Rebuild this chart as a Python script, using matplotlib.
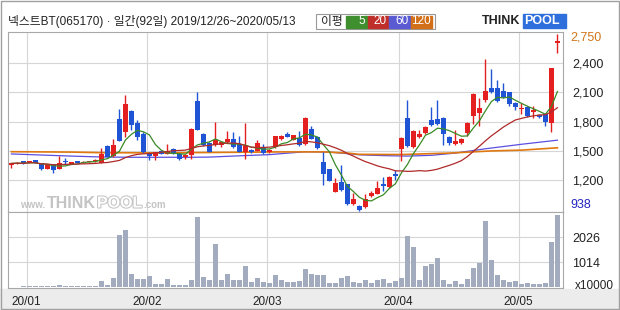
import matplotlib.pyplot as plt
import matplotlib.patheffects as pe
from matplotlib.patches import Rectangle
import pandas as pd

plt.rcParams['font.family'] = ['Liberation Sans', 'Noto Sans CJK KR']

# daily candles 2019/12/26 ~ 2020/05/13 (92 trading days)
opens = [1360, 1368, 1392, 1375, 1404, 1373, 1319, 1363, 1319, 1396,
         1366, 1397, 1378, 1386, 1394, 1380, 1551, 1448, 1823, 1690,
         1904, 1788, 1677, 1479, 1445, 1496, 1472, 1520, 1472, 1435,
         1455, 2015, 1672, 1585, 1558, 1560, 1592, 1622, 1566, 1489,
         1512, 1500, 1532, 1490, 1537, 1617, 1677, 1614, 1635, 1575,
         1725, 1641, 1388, 1310, 1082, 1178, 1162, 958, 940, 927,
         1040, 1064, 1162, 1128, 1266, 1520, 1837, 1543, 1639, 1680,
         1814, 1827, 1842, 1642, 1571, 1580, 1680, 1860, 1890, 2025,
         2142, 2142, 2117, 2100, 1992, 1930, 1946, 1900, 1866, 1880,
         1790, 2605]
highs = [1378, 1382, 1396, 1400, 1408, 1380, 1360, 1366, 1452, 1428,
         1386, 1400, 1394, 1400, 1420, 1534, 1560, 1619, 1924, 2074,
         1919, 1817, 1690, 1484, 1490, 1510, 1571, 1530, 1476, 1466,
         1735, 2108, 1680, 1590, 1795, 1596, 1700, 1695, 1650, 1787,
         1520, 1609, 1571, 1515, 1655, 1665, 1694, 1668, 1701, 1845,
         1759, 1650, 1492, 1315, 1228, 1358, 1165, 1070, 950, 1063,
         1088, 1196, 1238, 1240, 1309, 1640, 2025, 1712, 1718, 1760,
         1948, 2018, 1850, 1650, 1718, 1630, 1800, 2090, 2042, 2443,
         2340, 2230, 2190, 2105, 2000, 1990, 1950, 1957, 1875, 1885,
         2350, 2697]
lows = [1322, 1362, 1366, 1372, 1375, 1300, 1315, 1278, 1315, 1370,
        1362, 1375, 1375, 1383, 1390, 1378, 1435, 1440, 1598, 1640,
        1714, 1612, 1480, 1411, 1410, 1465, 1468, 1470, 1410, 1420,
        1420, 1714, 1555, 1485, 1550, 1545, 1585, 1535, 1486, 1422,
        1480, 1495, 1470, 1480, 1530, 1610, 1640, 1608, 1550, 1560,
        1618, 1520, 1153, 1188, 1075, 1095, 945, 950, 886, 920,
        1030, 1060, 1088, 1120, 1206, 1400, 1540, 1530, 1630, 1675,
        1760, 1770, 1565, 1562, 1565, 1570, 1650, 1780, 1760, 2000,
        2090, 2000, 2040, 1960, 1920, 1880, 1850, 1840, 1840, 1750,
        1690, 2500]
closes = [1372, 1378, 1370, 1396, 1377, 1312, 1356, 1305, 1373, 1388,
          1383, 1377, 1390, 1397, 1407, 1469, 1441, 1561, 1605, 1980,
          1764, 1643, 1487, 1445, 1486, 1470, 1503, 1476, 1421, 1462,
          1728, 1718, 1565, 1490, 1609, 1592, 1622, 1537, 1490, 1554,
          1486, 1580, 1476, 1505, 1650, 1655, 1646, 1661, 1556, 1836,
          1622, 1532, 1266, 1196, 1167, 1102, 954, 1003, 900, 1013,
          1072, 1124, 1146, 1230, 1246, 1632, 1552, 1703, 1674, 1742,
          1767, 1776, 1670, 1580, 1602, 1625, 1790, 2083, 1938, 2115,
          2098, 2013, 2050, 1982, 1948, 1944, 1862, 1920, 1850, 1798,
          2345, 2625]
volumes = [20, 20, 25, 25, 25, 25, 25, 30, 81, 25,
           25, 25, 25, 25, 30, 243, 81, 365, 2130, 2320,
           550, 345, 345, 460, 142, 142, 345, 100, 70, 70,
           270, 2850, 420, 270, 1770, 270, 550, 305, 305, 865,
           185, 385, 185, 145, 505, 305, 185, 200, 245, 725,
           520, 480, 480, 162, 162, 355, 433, 190, 180, 270,
           162, 280, 310, 162, 230, 355, 2096, 1615, 285, 850,
           925, 1170, 285, 115, 230, 115, 318, 765, 973, 2710,
           1090, 480, 278, 203, 230, 130, 155, 130, 130, 162,
           1818, 2955]  # x10000

# 60 / 120 day averages
ma60_idx = [0, 5, 10, 15, 20, 25, 30, 33, 38, 43, 49, 53, 56, 58, 62, 66, 70, 74, 79, 85, 91]
ma60_val = [1469, 1458, 1447, 1438, 1435, 1435, 1435, 1437, 1450, 1462, 1492, 1488, 1472, 1460,
            1452, 1447, 1455, 1478, 1522, 1568, 1610]
ma120_idx = [0, 10, 15, 25, 35, 45, 52, 56, 58, 65, 73, 80, 85, 91]
ma120_val = [1492, 1488, 1482, 1480, 1485, 1490, 1490, 1478, 1465, 1463, 1478, 1500, 1508, 1532]

month_starts = [3, 23, 43, 65, 85]
month_labels = ['20/01', '20/02', '20/03', '20/04', '20/05']
price_ticks = [1200, 1500, 1800, 2100, 2400]
vol_ticks = [1014, 2026]

UP, DOWN = '#e3201f', '#1f55d4'
W, H = 620, 310


def box(l, t, r, b):
    return [l / W, 1 - b / H, (r - l) / W, (b - t) / H]


fig = plt.figure(figsize=(6.2, 3.1), dpi=100, facecolor='white')
ax = fig.add_axes(box(7.7, 32, 562.7, 212))
axv = fig.add_axes(box(7.7, 212, 562.7, 288), sharex=ax)

x = list(range(len(closes)))
colors = [UP if c >= o else DOWN for o, c in zip(opens, closes)]
bottoms = [min(o, c) for o, c in zip(opens, closes)]
heights = [max(abs(c - o), 9) for o, c in zip(opens, closes)]

ax.vlines(x, lows, highs, colors=colors, lw=1, zorder=3)
ax.bar(x, heights, bottom=bottoms, width=0.7, color=colors, lw=0, zorder=3)

s = pd.Series(closes)
ax.plot(x, s.rolling(5, min_periods=1).mean(), color='#3a8a26', lw=0.9, zorder=4)
ax.plot(x, s.rolling(20, min_periods=1).mean(), color='#b02a2a', lw=0.9, zorder=4)
ax.plot(ma60_idx, ma60_val, color='#5b4fe0', lw=0.9, zorder=2)
ax.plot(ma120_idx, ma120_val, color='#e07810', lw=1.2, zorder=2)

axv.bar(x, volumes, width=0.72, color='#a3abbf', lw=0, zorder=3)

ax.set_xlim(-0.62, 91.88)
ax.set_ylim(875, 2717)
axv.set_ylim(-41, 3058)

for a in (ax, axv):
    a.set_facecolor('white')
    for m in month_starts:
        a.axvline(m - 0.45, color='#d6d6d6', lw=0.8, zorder=1)
    a.grid(axis='y', color='#d6d6d6', lw=0.8, zorder=1)
    a.set_axisbelow(True)
    for sp in a.spines.values():
        sp.set_color('#a8a8a8')
        sp.set_linewidth(0.8)
    a.yaxis.tick_right()
    a.tick_params(axis='y', length=0, pad=7, labelsize=9, colors='#222222')

ax.set_yticks(price_ticks)
ax.set_yticklabels([f'{v:,}' for v in price_ticks])
ax.tick_params(axis='x', length=0, labelbottom=False)
axv.set_yticks(vol_ticks)
axv.set_yticklabels([str(v) for v in vol_ticks])
axv.set_xticks([m - 0.45 for m in month_starts])
axv.set_xticklabels(month_labels)
axv.tick_params(axis='x', length=0, pad=6, labelsize=8.5, colors='#222222')

ax.text(1.013, 0.967, '2,750', transform=ax.transAxes, color='#d0761c', fontsize=9, va='center')
ax.text(1.013, 0.04, '938', transform=ax.transAxes, color='#2424c0', fontsize=9, va='center')
axv.text(1.022, 0.03, 'x10000', transform=axv.transAxes, color='#222222', fontsize=8.5, va='center')

# bottom date strip and frame
fig.patches.append(Rectangle((0, 0), 1, 21 / H, transform=fig.transFigure, color='#ececec', zorder=-1))
fig.patches.append(Rectangle((0.001, 0.002), 0.997, 0.995, transform=fig.transFigure,
                             fill=False, edgecolor='#a0a0a0', lw=1))

# header
fig.text(8 / W, 1 - 22 / H, '넥스트BT(065170) · 일간(92일) 2019/12/26~2020/05/13',
         fontsize=8.5, va='center', color='#222222')
fig.patches.append(Rectangle((316 / W, 1 - 29 / H), 119 / W, 15 / H, transform=fig.transFigure,
                             facecolor='white', edgecolor='#9a9a9a', lw=0.8))
fig.text(321 / W, 1 - 21.5 / H, '이평', fontsize=8.5, va='center', color='#222222')
legend = [('5', '#3f8f2f', 346, 367), ('20', '#c0302a', 368, 388),
          ('60', '#5a5ad2', 389, 410), ('120', '#d2701a', 411, 432)]
for lab, col, l, r in legend:
    fig.patches.append(Rectangle((l / W, 1 - 27.5 / H), (r - l) / W, 12 / H,
                                 transform=fig.transFigure, color=col))
    fig.text((r - 1.5) / W, 1 - 21.5 / H, lab, fontsize=8.5, va='center', ha='right', color='white')

# logo
fig.text(482 / W, 1 - 21 / H, 'THINK', fontsize=9, fontweight='bold', va='center', color='#222222')
fig.patches.append(Rectangle((523 / W, 1 - 28 / H), 43 / W, 14 / H, transform=fig.transFigure,
                             color='#2f6fdc'))
fig.text(524 / W, 1 - 21 / H, 'POOL', fontsize=9, fontweight='bold', va='center', color='white')

# watermark
wm = '#c4c4c4'
fig.text(20 / W, 1 - 205 / H, 'www.', fontsize=7, va='center', color=wm, fontweight='bold')
fig.text(47 / W, 1 - 203 / H, 'THINK', fontsize=11.5, va='center', color=wm, fontweight='bold')
fig.text(97 / W, 1 - 203 / H, 'POOL', fontsize=11.5, va='center', color='white', fontweight='bold',
         path_effects=[pe.withStroke(linewidth=1.5, foreground=wm)])
fig.text(143 / W, 1 - 205 / H, '.com', fontsize=7, va='center', color=wm, fontweight='bold')

fig.savefig('out.png', dpi=100, facecolor=fig.get_facecolor())
